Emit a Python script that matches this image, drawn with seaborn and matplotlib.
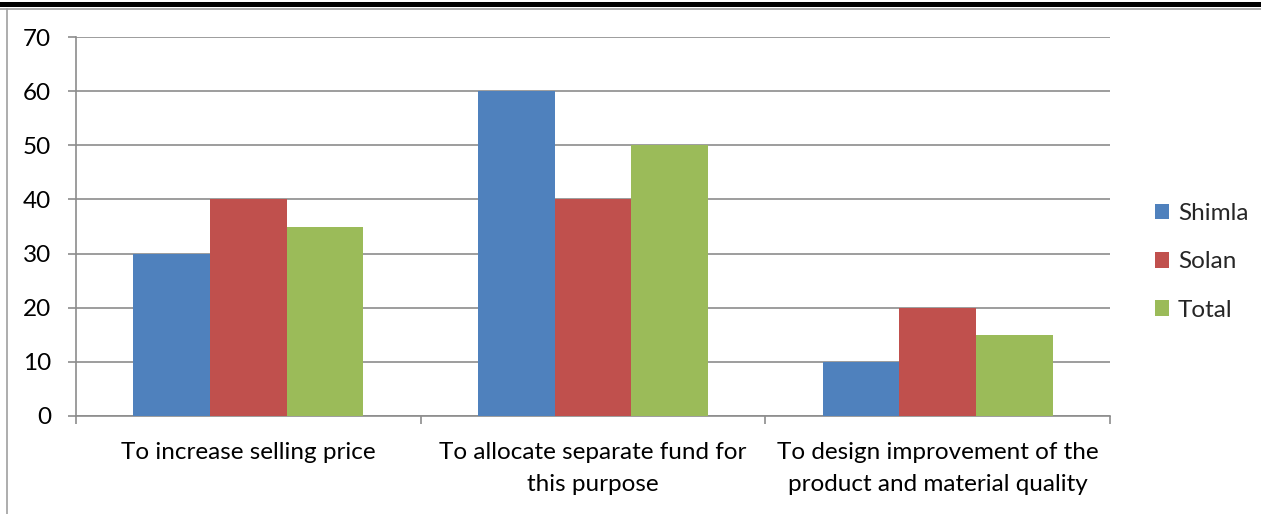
import matplotlib
matplotlib.use("Agg")
import matplotlib.pyplot as plt
from matplotlib.patches import Rectangle
from matplotlib.lines import Line2D
from matplotlib.ticker import FixedLocator
import seaborn as sns
import pandas as pd

categories = [
    "To increase selling price",
    "To allocate separate fund for\nthis purpose",
    "To design improvement of the\nproduct and material quality",
]
series = ["Shimla", "Solan", "Total"]
shimla = [30, 60, 10]
solan = [40, 40, 20]
total = [35, 50, 15]
colors = ["#4F81BD", "#C0504D", "#9BBB59"]
y_ticks = [0, 10, 20, 30, 40, 50, 60, 70]

rows = []
for name, vals in zip(series, [shimla, solan, total]):
    for cat, v in zip(categories, vals):
        rows.append({"category": cat, "series": name, "value": v})
df = pd.DataFrame(rows)

sns.set_theme(style="white")
plt.rcParams["font.family"] = ["Lato", "DejaVu Sans"]

W, H = 1261, 514
FS = 17.5
fig = plt.figure(figsize=(W / 100, H / 100), dpi=100)
ax = fig.add_axes([76 / W, 1 - 416 / H, (1110 - 76) / W, (416 - 37) / H])

sns.barplot(
    data=df, x="category", y="value", hue="series", order=categories,
    hue_order=series, palette=colors, width=2 / 3, saturation=1,
    edgecolor="none", linewidth=0, ax=ax, zorder=3,
)

grid_col = "#8C8C8C"
ax.set_xlim(-0.5, 2.5)
ax.set_ylim(0, 70)
ax.set_yticks(y_ticks)
ax.yaxis.grid(True, color=grid_col, linewidth=1.2, zorder=0)
ax.set_axisbelow(True)
ax.set_xlabel("")
ax.set_ylabel("")

for side in ["top", "right"]:
    ax.spines[side].set_visible(False)
for side in ["left", "bottom"]:
    ax.spines[side].set_color(grid_col)
    ax.spines[side].set_linewidth(1.2)

ax.tick_params(axis="y", which="major", left=True, length=6, width=1.2,
               color=grid_col, pad=12, labelsize=FS, labelcolor="black")
ax.tick_params(axis="x", which="major", bottom=False, length=0, pad=19,
               labelsize=FS, labelcolor="black")
ax.xaxis.set_minor_locator(FixedLocator([-0.5, 0.5, 1.5, 2.5]))
ax.tick_params(axis="x", which="minor", bottom=True, length=6, width=1.2,
               color=grid_col)
for lbl in ax.get_xticklabels():
    lbl.set_linespacing(1.6)

ax.get_legend().remove()
handles = [Rectangle((0, 0), 1, 1, facecolor=c, edgecolor="none") for c in colors]
fig.legend(handles, series, loc="center left",
           bbox_to_anchor=(1145 / W, 1 - 262 / H), frameon=False,
           fontsize=FS, handlelength=0.6, handleheight=0.6,
           handletextpad=0.35, labelspacing=1.12, borderaxespad=0)

# page border elements around the chart
fig.add_artist(Rectangle((0, 1 - 7 / H), 1, 5 / H, transform=fig.transFigure,
                         facecolor="black", edgecolor="none"))
fig.add_artist(Line2D([0, 1], [1 - 8.5 / H] * 2, transform=fig.transFigure,
                      color="#A0A0A0", linewidth=1.2))
fig.add_artist(Line2D([7 / W] * 2, [0, 1 - 8.5 / H], transform=fig.transFigure,
                      color="#A0A0A0", linewidth=1.2))

fig.savefig("out.png", dpi=100, facecolor="white")
